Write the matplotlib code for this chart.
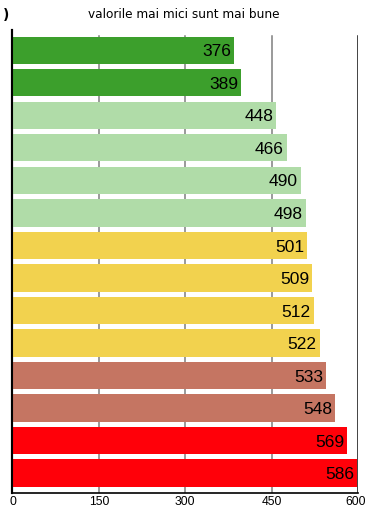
import matplotlib.pyplot as plt
import matplotlib.transforms as mtransforms

# values shown on the bars, top to bottom
values = [376, 389, 448, 466, 490, 498, 501, 509, 512, 522, 533, 548, 569, 586]
groups = ['dg', 'dg', 'lg', 'lg', 'lg', 'lg', 'y', 'y', 'y', 'y', 'b', 'b', 'r', 'r']
group_colors = {'dg': '#3c9f2c', 'lg': '#b0dca8', 'y': '#f2d24e',
                'b': '#c57562', 'r': '#ff0009'}
ticks = [0, 150, 300, 450, 600]
title = 'valorile mai mici sunt mai bune'

fig = plt.figure(figsize=(3.67, 5.11), dpi=100)
ax = fig.add_axes([0.034, 0.0346, 0.9414, 0.9067])
ax.set_xlim(0, 600)
ax.set_ylim(13.62, -0.62)
ax.set_xticks(ticks)
ax.set_xticklabels([str(t) for t in ticks], fontsize=8.7, family='Liberation Sans')
ax.tick_params(axis='x', length=0, pad=2)
ax.set_yticks([])
for s in ['top', 'right']:
    ax.spines[s].set_visible(False)
ax.spines['left'].set_linewidth(1.5)
ax.spines['bottom'].set_linewidth(1.2)
for t in ticks[1:-1]:
    ax.axvline(t, ymax=0.987, color='#7f7f7f', lw=1.1, zorder=0)
ax.axvline(600, ymax=0.987, color='#111111', lw=1.1, zorder=0)

# last tick label sits right at the figure edge, nudge it in a little
last = ax.get_xticklabels()[-1]
last.set_transform(last.get_transform() +
                   mtransforms.ScaledTranslation(-2 / 100, 0, fig.dpi_scale_trans))

# bars on a twin axis (bar lengths in the source are slightly stretched)
bx = ax.twiny()
bx.set_xlim(0, 587)
bx.set_ylim(13.62, -0.62)
bx.set_xticks([])
bx.set_yticks([])
for s in ['top', 'right', 'bottom']:
    bx.spines[s].set_visible(False)
bx.spines['left'].set_linewidth(1.5)
bx.patch.set_visible(False)
bars = bx.barh(range(len(values)), values, height=0.84,
               color=[group_colors[g] for g in groups], zorder=2)
for i, v in enumerate(values):
    bx.text(v - 5, i + 0.05, str(v), ha='right', va='center',
            fontsize=12.5, family='Liberation Sans', color='black')

fig.text(0.5, 0.971, title, ha='center', va='center', fontsize=8.7,
         family='DejaVu Sans')
fig.text(0.008, 0.971, ')', ha='left', va='center', fontsize=10,
         fontweight='bold')

fig.savefig('out.png', dpi=100)
